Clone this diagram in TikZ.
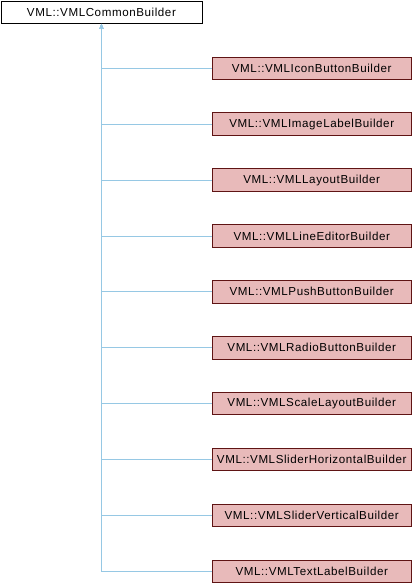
\documentclass[tikz,border=0pt]{standalone}
\usepackage{fontspec}
\setmainfont[LetterSpace=5]{Liberation Sans}
\usetikzlibrary{arrows.meta}
\definecolor{edgeblue}{RGB}{150,200,228}
\definecolor{boxfill}{RGB}{232,186,186}
\definecolor{boxline}{RGB}{95,20,20}
\tikzset{
  basebox/.style={draw=black, fill=white, line width=0.9pt, inner sep=0pt, anchor=north west, minimum height=22.5pt, font=\fontsize{11.6}{13}\selectfont},
  childbox/.style={draw=boxline, fill=boxfill, line width=0.9pt, inner sep=0pt, minimum width=199.5pt, minimum height=22.5pt, font=\fontsize{11.6}{13}\selectfont},
  inh/.style={draw=edgeblue, line width=0.8pt, {Stealth[length=5pt,width=4pt]}-}
}
\begin{document}
\begin{tikzpicture}[x=1pt,y=-1pt]
\useasboundingbox (0,0) rectangle (414,584);
\node[basebox, minimum width=201pt] (top) at (0.5,0.5) {VML::VMLCommonBuilder};
\foreach \n/\t/\y in {
 c1/VML::VMLIconButtonBuilder/68.2,
 c2/VML::VMLImageLabelBuilder/124.1,
 c3/VML::VMLLayoutBuilder/180.0,
 c4/VML::VMLLineEditorBuilder/235.9,
 c5/VML::VMLPushButtonBuilder/291.8,
 c6/VML::VMLRadioButtonBuilder/347.7,
 c7/VML::VMLScaleLayoutBuilder/403.6,
 c8/VML::VMLSliderHorizontalBuilder/459.5,
 c9/VML::VMLSliderVerticalBuilder/515.4,
 c10/VML::VMLTextLabelBuilder/571.3}{
  \node[childbox] (\n) at (311.75,\y) {\t};
}
\foreach \n in {c1,c2,c3,c4,c5,c6,c7,c8,c9,c10}{
  \draw[inh] (top.south) |- (\n.west);
}
\end{tikzpicture}
\end{document}
